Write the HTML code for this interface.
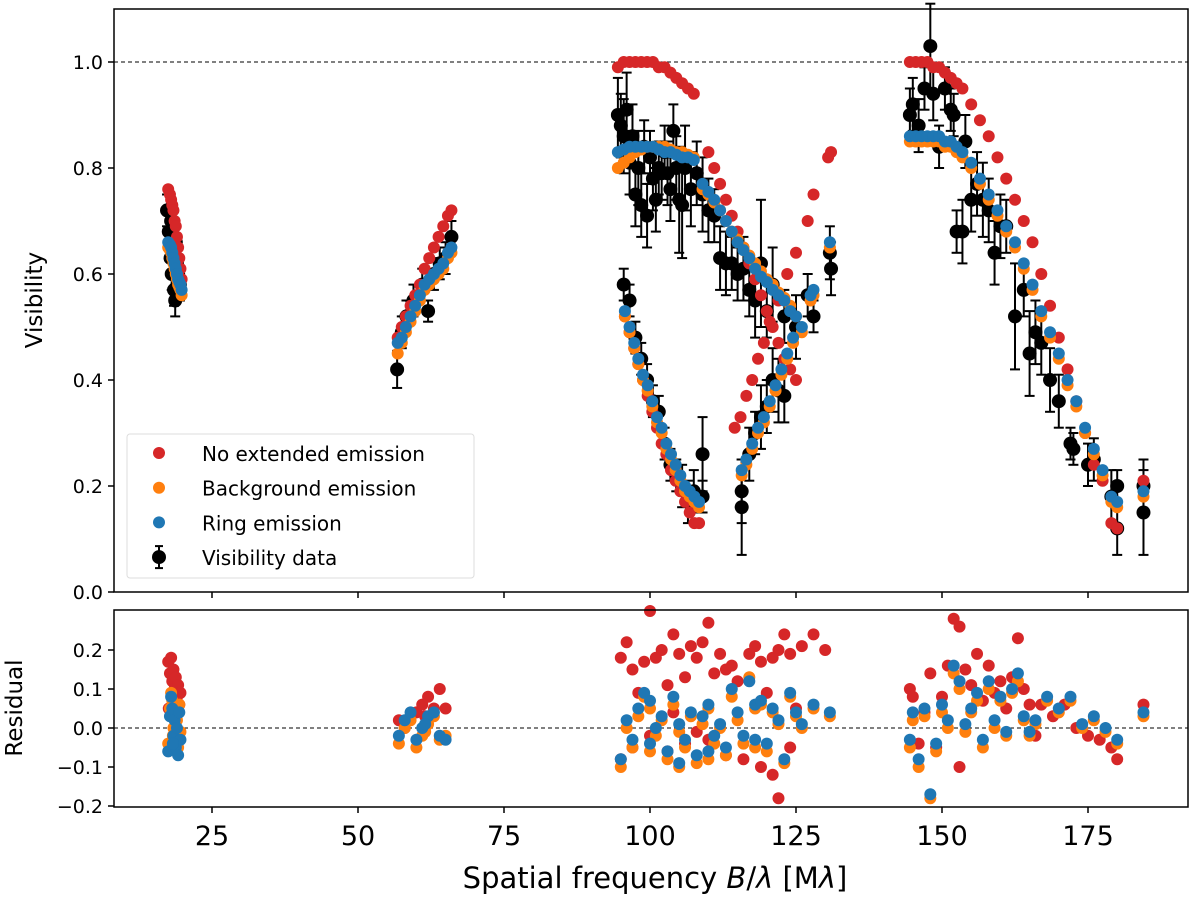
<!DOCTYPE html>
<html><head><meta charset="utf-8"><style>
html,body{margin:0;padding:0;background:#fff;}
svg text{font-family:"DejaVu Sans","Liberation Sans",sans-serif;fill:#000;}
</style></head><body>
<svg id="chart" width="1200" height="906" xmlns="http://www.w3.org/2000/svg">
<g id="top-panel"></g>
<g id="bot-panel"></g>
</svg>
<script>
const xTicks=[25,50,75,100,125,150,175];
const visTicks=[0.0,0.2,0.4,0.6,0.8,1.0];
const resTicks=[-0.2,-0.1,0.0,0.1,0.2];
const legendLabels=["No extended emission","Background emission","Ring emission","Visibility data"];

const redVis=[[17.5,0.76],[17.8,0.75],[18.0,0.74],[18.2,0.73],[18.4,0.72],[18.6,0.70],[18.8,0.69],[19.0,0.67],[19.2,0.65],[19.4,0.63],[19.6,0.61],[19.8,0.59],
[56.8,0.48],[57.5,0.50],[58.2,0.52],[59,0.54],[59.8,0.56],[60.6,0.58],[61.4,0.61],[62.2,0.63],[63,0.65],[63.8,0.67],[64.6,0.69],[65.4,0.71],[66,0.72],
[94.5,0.99],[95.5,1.0],[96.5,1.0],[97.5,1.0],[98.5,1.0],[99.5,1.0],[100.5,1.0],[101.5,0.99],[102.5,0.99],[103.5,0.98],[104.5,0.97],[105.5,0.96],[106.5,0.95],[107.5,0.94],
[110,0.83],[111,0.80],[112,0.77],[113,0.74],[114,0.71],[115,0.68],[116,0.65],[117,0.62],[118,0.59],[119,0.56],[120,0.53],[121,0.50],[122,0.47],[123,0.44],[124,0.42],[125,0.40],
[114.5,0.31],[115.5,0.33],[116.5,0.37],[117.5,0.40],[118.5,0.44],[119.5,0.47],[120.5,0.51],[122,0.55],[123.5,0.60],[125,0.64],[127,0.70],[128,0.75],[130.5,0.82],[131,0.83],
[95.7,0.52],[96.5,0.49],[97.3,0.46],[98,0.43],[98.8,0.40],[99.6,0.37],[100.4,0.34],[101.2,0.31],[102,0.28],[102.8,0.26],[103.6,0.23],[104.4,0.21],[105.2,0.19],[106,0.17],[106.8,0.15],[107.6,0.13],[108.4,0.13],
[144.5,1.0],[145.5,1.0],[146.5,1.0],[147.5,1.0],[148.5,0.99],[149.5,0.99],[150.5,0.98],[151.5,0.97],[152.5,0.96],[153.5,0.95],[155,0.92],[156.5,0.89],[158,0.86],[159.5,0.82],[161,0.78],[162.5,0.74],[164,0.70],[165.5,0.66],[167,0.60],[168.5,0.54],[170,0.48],[171.5,0.42],[173,0.36],[174.5,0.30],[176,0.24],[177.5,0.21],[179,0.13],[180,0.12],[184.5,0.21]];

const orangeVis=[[17.5,0.65],[17.8,0.645],[18.0,0.64],[18.2,0.63],[18.4,0.62],[18.6,0.61],[18.8,0.60],[19.0,0.59],[19.2,0.58],[19.4,0.575],[19.6,0.57],[19.8,0.56],
[56.8,0.45],[57.5,0.47],[58.2,0.49],[59,0.51],[59.8,0.53],[60.6,0.55],[61.4,0.57],[62.2,0.58],[63,0.59],[63.8,0.60],[64.6,0.61],[65.4,0.63],[66,0.64],
[94.5,0.80],[95.5,0.81],[96.5,0.82],[97.5,0.83],[98.5,0.835],[99.5,0.84],[100.5,0.84],[101.5,0.84],[102.5,0.84],[103.5,0.835],[104.5,0.83],[105.5,0.83],[106.5,0.825],[107.5,0.82],
[109,0.76],[110,0.75],[111,0.735],[112,0.72],[113,0.70],[114,0.68],[115,0.665],[116,0.65],[117,0.635],[118,0.62],[119,0.605],[120,0.59],[121,0.58],[122,0.565],[123,0.555],[124,0.54],[125,0.52],
[115.7,0.22],[116.5,0.24],[117.5,0.27],[118.5,0.30],[119.5,0.32],[120.5,0.35],[121.5,0.38],[122.5,0.41],[123.5,0.44],[124.5,0.47],[126,0.49],[127.5,0.55],[128,0.56],[130.8,0.65],
[95.7,0.52],[96.5,0.49],[97.3,0.46],[98,0.43],[98.8,0.40],[99.6,0.38],[100.4,0.35],[101.2,0.32],[102,0.30],[102.8,0.27],[103.6,0.25],[104.4,0.23],[105.2,0.21],[106,0.19],[106.8,0.18],[107.6,0.17],[108.4,0.16],
[144.5,0.85],[145.5,0.85],[146.5,0.85],[147.5,0.85],[148.5,0.85],[149.5,0.85],[150.5,0.84],[151.5,0.84],[152.5,0.83],[153.5,0.82],[155,0.80],[156.5,0.77],[158,0.74],[159.5,0.71],[161,0.68],[162.5,0.65],[164,0.61],[165.5,0.57],[167,0.52],[168.5,0.48],[170,0.44],[171.5,0.39],[173,0.35],[174.5,0.30],[176,0.26],[177.5,0.22],[179,0.17],[180,0.16],[184.5,0.18]];

const blueVis=[[17.5,0.66],[17.8,0.655],[18.0,0.65],[18.2,0.64],[18.4,0.63],[18.6,0.62],[18.8,0.61],[19.0,0.60],[19.2,0.59],[19.4,0.585],[19.6,0.58],[19.8,0.57],
[56.8,0.47],[57.5,0.48],[58.2,0.50],[59,0.52],[59.8,0.54],[60.6,0.56],[61.4,0.58],[62.2,0.59],[63,0.60],[63.8,0.61],[64.6,0.62],[65.4,0.64],[66,0.65],
[94.5,0.83],[95.5,0.835],[96.5,0.84],[97.5,0.84],[98.5,0.84],[99.5,0.84],[100.5,0.84],[101.5,0.835],[102.5,0.83],[103.5,0.83],[104.5,0.825],[105.5,0.82],[106.5,0.82],[107.5,0.815],
[109,0.77],[110,0.755],[111,0.74],[112,0.72],[113,0.70],[114,0.68],[115,0.66],[116,0.645],[117,0.63],[118,0.61],[119,0.595],[120,0.585],[121,0.57],[122,0.56],[123,0.55],[124,0.53],[125,0.52],
[115.7,0.23],[116.5,0.25],[117.5,0.28],[118.5,0.31],[119.5,0.33],[120.5,0.36],[121.5,0.39],[122.5,0.42],[123.5,0.45],[124.5,0.48],[126,0.50],[127.5,0.56],[128,0.57],[130.8,0.66],
[95.7,0.53],[96.5,0.50],[97.3,0.47],[98,0.44],[98.8,0.41],[99.6,0.39],[100.4,0.36],[101.2,0.33],[102,0.31],[102.8,0.28],[103.6,0.26],[104.4,0.24],[105.2,0.22],[106,0.20],[106.8,0.19],[107.6,0.18],[108.4,0.17],
[144.5,0.86],[145.5,0.86],[146.5,0.86],[147.5,0.86],[148.5,0.86],[149.5,0.86],[150.5,0.85],[151.5,0.85],[152.5,0.84],[153.5,0.83],[155,0.81],[156.5,0.78],[158,0.75],[159.5,0.72],[161,0.69],[162.5,0.66],[164,0.62],[165.5,0.58],[167,0.53],[168.5,0.49],[170,0.45],[171.5,0.40],[173,0.36],[174.5,0.31],[176,0.27],[177.5,0.23],[179,0.18],[180,0.17],[184.5,0.19]];

const dataVis=[[17.3,0.72,0.03],[17.6,0.68,0.03],[17.9,0.63,0.03],[18.1,0.60,0.03],[18.3,0.65,0.03],[18.5,0.57,0.03],[18.7,0.55,0.03],[19.0,0.62,0.03],[19.2,0.60,0.03],[19.5,0.58,0.03],[18.0,0.70,0.03],[18.8,0.66,0.03],
[56.7,0.42,0.035],[57.5,0.49,0.03],[58.3,0.52,0.03],[59.5,0.55,0.03],[61,0.58,0.03],[62,0.53,0.02],[63,0.60,0.03],[64,0.62,0.03],[65,0.63,0.03],[66,0.67,0.03],
[94.5,0.90,0.07],[95,0.88,0.06],[95.5,0.86,0.07],[96,0.91,0.07],[96.5,0.81,0.06],[97,0.86,0.06],[97.5,0.75,0.06],[98,0.80,0.07],[98.5,0.73,0.06],[99,0.84,0.05],[99.5,0.71,0.06],[100,0.82,0.05],[100.5,0.78,0.06],[101,0.74,0.06],[101.5,0.80,0.05],[102,0.79,0.05],[102.5,0.83,0.05],[103,0.79,0.06],[103.5,0.76,0.06],[104,0.87,0.05],[104.5,0.80,0.06],[105,0.74,0.1],[105.5,0.73,0.1],[106,0.80,0.08],[107,0.76,0.07],[108,0.79,0.06],[109,0.75,0.07],[110,0.72,0.06],[111,0.71,0.05],[112,0.63,0.06],[113,0.62,0.06],[114,0.62,0.05],[115,0.60,0.05],[116,0.61,0.06],[117,0.57,0.05],[118,0.55,0.07],[119,0.62,0.12],[120,0.53,0.05],[121,0.58,0.07],[123,0.52,0.05],[125,0.50,0.06],[127,0.56,0.04],[128,0.52,0.03],[131,0.61,0.05],[130.8,0.64,0.05],
[95.5,0.58,0.03],[96.5,0.55,0.03],[97.5,0.48,0.03],[98.5,0.44,0.03],[99.5,0.40,0.03],[100.5,0.36,0.03],[101.5,0.34,0.03],[102.5,0.28,0.03],[103.5,0.24,0.03],[104.5,0.22,0.03],[105.5,0.20,0.04],[106.5,0.17,0.04],[107.5,0.19,0.04],[109,0.26,0.07],[109,0.18,0.03],[115.7,0.19,0.06],[115.7,0.16,0.09],[117,0.26,0.05],[118,0.30,0.04],[119,0.33,0.06],[120,0.35,0.05],[121,0.40,0.06],[122,0.38,0.06],[123,0.37,0.05],
[144.5,0.90,0.05],[145,0.92,0.05],[146,0.88,0.05],[147,0.95,0.04],[148,1.03,0.08],[148.5,0.94,0.05],[149.5,0.84,0.04],[150.5,0.95,0.04],[151.5,0.91,0.04],[152,0.90,0.04],[152.5,0.68,0.04],[153.5,0.68,0.06],[154,0.85,0.05],[155,0.74,0.06],[156,0.77,0.06],[157,0.74,0.07],[158,0.72,0.06],[159,0.64,0.06],[160,0.69,0.06],[161,0.69,0.05],[162.5,0.52,0.1],[164,0.57,0.05],[165,0.45,0.08],[166,0.49,0.06],[167,0.47,0.06],[168.5,0.40,0.06],[170,0.36,0.05],[172,0.28,0.03],[172.5,0.27,0.03],[175,0.24,0.04],[176,0.25,0.04],[179,0.18,0.05],[180,0.12,0.05],[180,0.20,0.03],[184.5,0.15,0.08],[184.5,0.20,0.05]];

const redRes=[[17.5,0.17],[17.8,0.14],[18,0.18],[18.2,0.12],[18.4,0.15],[18.6,0.10],[18.8,0.13],[19,0.08],[19.2,0.11],[19.4,0.06],[19.6,0.09],[17.6,0.05],
[57,0.02],[58,0.0],[59,0.03],[60,0.04],[61,0.06],[62,0.08],[63,0.05],[64,0.10],[65,0.05],[61.5,0.03],
[95,0.18],[96,0.22],[97,0.15],[98,0.09],[99,0.17],[100,0.30],[101,0.18],[102,0.20],[103,0.11],[104,0.24],[105,0.19],[106,0.13],[107,0.21],[108,0.18],[109,0.22],[110,0.27],[111,0.14],[112,0.19],[113,0.15],[114,0.16],[115,0.12],[117,0.19],[118,0.21],[119,0.17],[120,0.09],[121,0.18],[122,0.20],[123,0.24],[124,0.19],[126,0.21],[128,0.24],[130,0.20],[95,-0.08],[97,-0.05],[100,-0.02],[103,-0.06],[106,-0.04],[110,-0.03],[113,-0.07],[116,-0.08],[119,-0.10],[121,-0.12],[122,-0.18],[124,-0.05],[125,0.05],[104,0.04],[108,-0.01],
[144.5,0.10],[145,0.08],[147,0.04],[148,0.14],[149,-0.05],[150,0.08],[151,0.16],[152,0.28],[153,0.26],[154,0.15],[155,0.11],[156,0.19],[157,0.07],[158,0.16],[159,0.09],[160,0.12],[161,0.05],[162,0.13],[163,0.23],[164,0.10],[165,0.06],[166,-0.02],[167,0.06],[169,0.03],[171,0.06],[173,0.00],[175,-0.02],[177,-0.03],[179,-0.05],[180,-0.08],[184.5,0.06],[146,-0.04],[153,-0.10]];

const orangeRes=[[17.5,-0.04],[17.8,0.05],[18,0.09],[18.2,0.07],[18.4,0.0],[18.6,0.04],[18.8,-0.03],[19,0.02],[19.2,-0.05],[19.4,0.06],[19.6,-0.01],[18.3,-0.02],
[57,-0.04],[58,0.0],[59,0.02],[60,-0.05],[61,-0.02],[62,0.01],[63,0.03],[64,-0.03],[65,-0.02],[61.5,-0.01],
[95,-0.10],[96,0.0],[97,-0.05],[98,0.03],[99,0.08],[100,-0.06],[101,-0.02],[102,0.02],[103,-0.08],[104,0.06],[105,-0.01],[106,-0.05],[107,0.03],[108,-0.09],[109,0.01],[110,0.05],[111,-0.04],[112,0.0],[113,-0.07],[114,0.08],[115,0.02],[116,-0.04],[117,0.13],[118,0.05],[119,0.06],[120,-0.06],[121,0.04],[122,0.01],[123,-0.09],[124,0.08],[125,0.03],[126,0.0],[128,0.05],[130.8,0.03],[100,0.05],[105,-0.10],[110,-0.08],[118,-0.05],
[144.5,-0.05],[145,0.02],[146,-0.10],[147,0.03],[148,-0.18],[149,-0.06],[150,0.04],[151,0.0],[152,0.14],[153,0.10],[154,-0.01],[155,0.04],[156,0.07],[157,-0.05],[158,0.10],[159,0.0],[160,0.07],[161,-0.02],[162,0.09],[163,0.12],[164,0.02],[165,-0.02],[166,0.01],[168,0.07],[170,0.04],[172,0.07],[174,0.0],[176,0.02],[178,-0.01],[180,-0.04],[184.5,0.03]];

const blueRes=[[17.5,-0.06],[17.8,0.03],[18,0.08],[18.2,0.05],[18.4,-0.02],[18.6,0.02],[18.8,-0.05],[19,0.0],[19.2,-0.07],[19.4,0.04],[19.6,-0.03],[18.3,-0.04],
[57,-0.02],[58,0.02],[59,0.04],[60,-0.03],[61,0.0],[62,0.03],[63,0.04],[64,-0.02],[65,-0.03],[61.5,0.01],
[95,-0.08],[96,0.02],[97,-0.03],[98,0.05],[99,0.09],[100,-0.04],[101,0.0],[102,0.03],[103,-0.06],[104,0.08],[105,0.01],[106,-0.03],[107,0.04],[108,-0.07],[109,0.03],[110,0.06],[111,-0.02],[112,0.01],[113,-0.05],[114,0.10],[115,0.04],[116,-0.02],[117,0.12],[118,0.06],[119,0.07],[120,-0.04],[121,0.05],[122,0.02],[123,-0.08],[124,0.09],[125,0.04],[126,0.01],[128,0.06],[130.8,0.04],[100,0.07],[105,-0.09],[110,-0.06],[118,-0.03],
[144.5,-0.03],[145,0.04],[146,-0.08],[147,0.05],[148,-0.17],[149,-0.04],[150,0.06],[151,0.02],[152,0.16],[153,0.12],[154,0.01],[155,0.05],[156,0.09],[157,-0.03],[158,0.12],[159,0.02],[160,0.08],[161,-0.01],[162,0.10],[163,0.14],[164,0.03],[165,-0.01],[166,0.02],[168,0.08],[170,0.05],[172,0.08],[174,0.01],[176,0.03],[178,0.0],[180,-0.03],[184.5,0.04]];

const NS="http://www.w3.org/2000/svg";
const L=114,R=1188;
const xS=v=>66+v*5.84;
const yT=v=>592-v*530;
const yB=v=>728-v*390;
function mk(parent,tag,attrs,text){const e=document.createElementNS(NS,tag);for(const k in attrs)e.setAttribute(k,attrs[k]);if(text!==undefined)e.textContent=text;parent.appendChild(e);return e;}
const topG=document.getElementById('top-panel'), botG=document.getElementById('bot-panel');
const RED="#d62728",ORA="#ff7f0e",BLU="#1f77b4";

let e;
e=mk(topG,'line',{x1:L,x2:R,y1:yT(1),y2:yT(1),stroke:'#000','stroke-width':1,'stroke-dasharray':'4,3'});


const gd=mk(topG,'g',{});


dataVis.forEach(d=>{
  const x=xS(d[0]),y1=yT(d[1]+d[2]),y2=yT(d[1]-d[2]);
  mk(gd,'line',{x1:x,x2:x,y1:y1,y2:y2,stroke:'#000','stroke-width':2});
  mk(gd,'line',{x1:x-5,x2:x+5,y1:y1,y2:y1,stroke:'#000','stroke-width':2});
  mk(gd,'line',{x1:x-5,x2:x+5,y1:y2,y2:y2,stroke:'#000','stroke-width':2});
  const c=mk(gd,'circle',{cx:x,cy:yT(d[1]),r:7,fill:'#000'});
  
  
});
function scatter(parent,arr,col,ys,name){
  const g=mk(parent,'g',{});
  
  
  arr.forEach(d=>{const c=mk(g,'circle',{cx:xS(d[0]),cy:ys(d[1]),r:6,fill:col});
    
    });
}
scatter(topG,redVis,RED,yT,'no-extended-emission-series');
scatter(topG,orangeVis,ORA,yT,'background-emission-series');
scatter(topG,blueVis,BLU,yT,'ring-emission-series');
e=mk(topG,'rect',{x:L,y:9,width:R-L,height:583,fill:'none',stroke:'#000','stroke-width':1.5});


visTicks.forEach(t=>{
  mk(topG,'line',{x1:L-6,x2:L,y1:yT(t),y2:yT(t),stroke:'#000','stroke-width':1.5});
  const tx=mk(topG,'text',{x:L-11,y:yT(t)+7,'text-anchor':'end','font-size':19},t.toFixed(1));
  
  
});
xTicks.forEach(t=>{mk(topG,'line',{x1:xS(t),x2:xS(t),y1:592,y2:598,stroke:'#000','stroke-width':1.5});});
e=mk(topG,'text',{x:0,y:0,'font-size':23,'text-anchor':'middle',transform:'translate(42,300) rotate(-90)'},'Visibility');



const lg=mk(topG,'g',{});


mk(lg,'rect',{x:127,y:434,width:347,height:144,rx:3,fill:'#fff','fill-opacity':0.8,stroke:'#ddd','stroke-width':1});
const lgCols=[RED,ORA,BLU,'#000'];
legendLabels.forEach((lab,i)=>{
  const y=453+i*34.7;
  const en=mk(lg,'g',{});
  
  
  if(i===3){mk(en,'line',{x1:159,x2:159,y1:y-11,y2:y+11,stroke:'#000','stroke-width':2});
    mk(en,'line',{x1:155,x2:163,y1:y-11,y2:y-11,stroke:'#000','stroke-width':2});
    mk(en,'line',{x1:155,x2:163,y1:y+11,y2:y+11,stroke:'#000','stroke-width':2});
    mk(en,'circle',{cx:159,cy:y,r:7,fill:'#000'});}
  else mk(en,'circle',{cx:159,cy:y,r:6,fill:lgCols[i]});
  mk(en,'text',{x:202,y:y+8,'font-size':20},lab);
});

e=mk(botG,'line',{x1:L,x2:R,y1:yB(0),y2:yB(0),stroke:'#000','stroke-width':1,'stroke-dasharray':'4,3'});


scatter(botG,redRes,RED,yB,'no-extended-emission-residuals');
scatter(botG,orangeRes,ORA,yB,'background-emission-residuals');
scatter(botG,blueRes,BLU,yB,'ring-emission-residuals');
e=mk(botG,'rect',{x:L,y:610,width:R-L,height:197,fill:'none',stroke:'#000','stroke-width':1.5});


resTicks.forEach(t=>{
  mk(botG,'line',{x1:L-6,x2:L,y1:yB(t),y2:yB(t),stroke:'#000','stroke-width':1.5});
  const lab=(t<0?'\u2212':'')+Math.abs(t).toFixed(1);
  const tx=mk(botG,'text',{x:L-11,y:yB(t)+7,'text-anchor':'end','font-size':19},lab);
  
  
});
xTicks.forEach(t=>{
  mk(botG,'line',{x1:xS(t),x2:xS(t),y1:807,y2:813,stroke:'#000','stroke-width':1.5});
  const tx=mk(botG,'text',{x:xS(t),y:845,'text-anchor':'middle','font-size':27},String(t));
  
  
});
e=mk(botG,'text',{x:0,y:0,'font-size':23,'text-anchor':'middle',transform:'translate(22,708) rotate(-90)'},'Residual');


e=mk(botG,'text',{x:655,y:888,'font-size':29,'text-anchor':'middle'});


e.innerHTML='Spatial frequency <tspan font-style="italic">B</tspan>/<tspan font-style="italic">λ</tspan> [M<tspan font-style="italic">λ</tspan>]';
</script>
</body></html>
